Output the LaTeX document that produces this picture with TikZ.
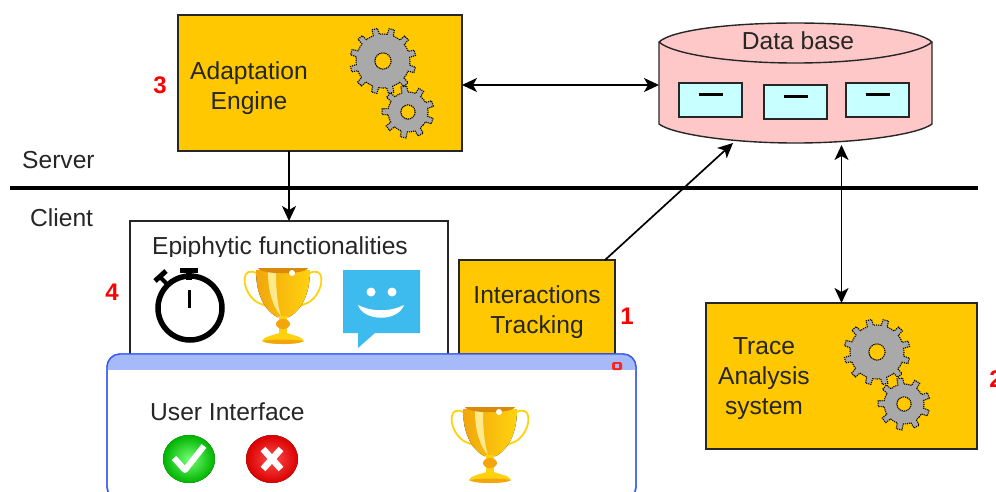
\documentclass[tikz,border=0pt]{standalone}
\usepackage{fontspec}
\setmainfont{Liberation Sans}
\usetikzlibrary{arrows.meta,calc}
\definecolor{amber}{HTML}{FFC800}
\definecolor{dbpink}{HTML}{FFC8C8}
\definecolor{dbcyan}{HTML}{C8FFFF}
\definecolor{wblue}{HTML}{3C5AF5}
\definecolor{hblue}{HTML}{A6BAFA}
\definecolor{gearg}{HTML}{A9A9A9}
\definecolor{bubble}{HTML}{3DBBEE}
\definecolor{goldA}{HTML}{F2A60C}
\definecolor{goldB}{HTML}{FFD20F}
\definecolor{goldC}{HTML}{FFE98A}
\definecolor{goldD}{HTML}{D98A0A}
\tikzset{
  ybox/.style={draw=black!85,line width=1.5pt,fill=amber,outer sep=0pt,inner sep=0pt},
  wbox/.style={draw=black!85,line width=1.5pt,fill=white,outer sep=0pt,inner sep=0pt},
  lab/.style={font=\fontsize{24.6}{29}\selectfont,text=black!85,align=center,inner sep=0pt},
  num/.style={font=\fontsize{24}{28}\bfseries\selectfont,text=red,inner sep=0pt},
  link/.style={draw=black,line width=1.7pt},
  tip/.style={-{Stealth[length=15pt,width=14pt,inset=4pt]}},
  tips/.style={{Stealth[length=15pt,width=14pt,inset=4pt]}-{Stealth[length=15pt,width=14pt,inset=4pt]}},
  dbbox/.style={draw=black!85,line width=1.3pt,fill=dbcyan},
}
% gear: x, y, outer radius, root radius, hole radius, teeth
\newcommand{\mygear}[6]{%
  \pgfmathsetmacro{\st}{360/#6}%
  \fill[gearg,draw=black,line width=1.1pt,densely dotted,even odd rule] (#1,#2)
    \foreach \i in {1,...,#6}{
      \ifnum\i=1 ++(\i*\st:#4)\else -- ($(#1,#2)+(\i*\st:#4)$)\fi
      -- ($(#1,#2)+(\i*\st+0.30*\st:#4)$)
      -- ($(#1,#2)+(\i*\st+0.36*\st:#3)$)
      -- ($(#1,#2)+(\i*\st+0.68*\st:#3)$)
      -- ($(#1,#2)+(\i*\st+0.74*\st:#4)$)
    } -- cycle (#1,#2) circle[radius=#5];
  \fill[amber] (#1,#2) circle[radius=#5];
  \draw[black,line width=1pt,densely dotted] (#1,#2) circle[radius=#5];
}
% trophy, drawn in a box about 80 x 77, top left at x,y
\newcommand{\mytrophy}[2]{%
  \begin{scope}[shift={(#1,#2)}]
    \draw[goldB,line width=1.8pt] (15,7) .. controls (-2,-3) and (-2,20) .. (10,32) .. controls (16,38) and (24,38) .. (30,42);
    \draw[goldB,line width=1.8pt] (65,7) .. controls (82,-3) and (82,20) .. (70,32) .. controls (64,38) and (56,38) .. (50,42);
    \fill[left color=goldA,right color=goldB] (13,3) -- (67,3) .. controls (67,25) and (60,42) .. (46,50) -- (34,50) .. controls (20,42) and (13,25) .. (13,3) -- cycle;
    \fill[goldC] (25,5) -- (33,5) .. controls (33,25) and (35,40) .. (38,49) .. controls (30,40) and (25,25) .. (25,5) -- cycle;
    \fill[goldD] (15,1) -- (65,1) .. controls (62,8) and (18,8) .. (15,1) -- cycle;
    \fill[white] (49,6) circle[radius=3];
    \fill[goldB] (36,49) rectangle (44,66);
    \fill[goldA] (40,57) ellipse[x radius=7,y radius=5];
    \fill[goldB] (40,65) .. controls (30,68) and (20,70) .. (19,74) .. controls (25,78) and (55,78) .. (61,74) .. controls (60,70) and (50,68) .. (40,65) -- cycle;
    \fill[goldA] (19,74) .. controls (25,78) and (55,78) .. (61,74) .. controls (50,72) and (30,72) .. (19,74) -- cycle;
  \end{scope}
}
\begin{document}
\begin{tikzpicture}[x=1pt,y=-1pt]
\useasboundingbox (0,0) rectangle (996,491);
\begin{scope}
\clip (0,0) rectangle (996,491);
% tier line
\coordinate (lineL) at (10,188);
\coordinate (lineR) at (978,188);
\draw[black,line width=3.2pt] (lineL) -- (lineR);
\node[lab,anchor=west] (server) at (22,160) {Server};
\node[lab,anchor=west] (client) at (30,218) {Client};

% Adaptation engine
\node[ybox,minimum width=284pt,minimum height=136pt] (adapt) at (320,83) {};
\node[lab] (adaptT) at (249,88) {Adaptation\\[1pt]Engine};
\mygear{383}{61}{33}{27}{8}{12}
\mygear{408}{112}{26}{20}{7}{9}
\node[num] (n3) at (160,85) {3};

% Database
\node[minimum width=273pt,minimum height=120pt,inner sep=0pt,outer sep=0pt] (db) at (795.5,85) {};
\draw[draw=black!85,line width=1.4pt,fill=dbpink] (659,42) -- (659,124)
   .. controls (672,134) and (730,143) .. (795.5,143)
   .. controls (861,143) and (919,134) .. (932,124) -- (932,42)
   .. controls (919,30) and (861,23) .. (795.5,23)
   .. controls (730,23) and (672,30) .. (659,42) -- cycle;
\draw[draw=black!85,line width=1.4pt] (659,42)
   .. controls (672,54) and (730,63) .. (795.5,63)
   .. controls (861,63) and (919,54) .. (932,42);
\node[lab] (dbT) at (798,41) {Data base};
\node[dbbox,minimum width=63pt,minimum height=34pt,inner sep=0pt] (r1) at (710.5,100) {};
\node[dbbox,minimum width=63pt,minimum height=34pt,inner sep=0pt] (r2) at (795.5,102) {};
\node[dbbox,minimum width=63pt,minimum height=34pt,inner sep=0pt] (r3) at (877.5,100) {};
\foreach \r in {r1,r2,r3}
  \draw[black,line width=3pt] ($(\r.center)+(-12,-6)$) -- ($(\r.center)+(12,-6)$);

% Epiphytic functionalities
\node[wbox,minimum width=318pt,minimum height=134pt] (epi) at (289,288) {};
\node[lab] (epiT) at (280,248) {Epiphytic functionalities};
\fill[white] (140,256.5) rectangle (430,264);
\node[num] (n4) at (112,292) {4};
% stopwatch
\draw[black,line width=5.5pt] (190,308) circle[radius=32];
\draw[black,line width=3pt] (189,290) -- (189,308);
\fill[black] (180,268) rectangle (198,273);
\fill[black] (186,272) rectangle (192,280);
\draw[black,line width=4pt] (167,284) -- (161,278);
\draw[black,line width=5pt] (155,281) -- (166,271);
% trophy
\mytrophy{243}{267}
% speech bubble
\fill[bubble] (343,270) -- (420,270) -- (420,333) -- (375,333) -- (358,348) -- (358,333) -- (343,333) -- cycle;
\fill[white] (371,292) circle[radius=4.5] (392,292) circle[radius=4.5];
\fill[white] (358,305) .. controls (372,312) and (390,312) .. (404,305) .. controls (398,322) and (364,322) .. (358,305) -- cycle;

% Interactions tracking
\node[ybox,minimum width=156pt,minimum height=94pt] (track) at (537,307) {};
\node[lab] (trackT) at (537,312) {Interactions\\[1pt]Tracking};
\node[num] (n1) at (627,316) {1};

% User interface window
\node[draw=none,minimum width=529pt,minimum height=136pt,inner sep=0pt,outer sep=0pt] (ui) at (371.5,422) {};
\draw[wblue,line width=1.4pt,fill=white,rounded corners=13pt] (107,500) -- (107,354) -- (636,354) -- (636,500) -- cycle;
\begin{scope}
\clip[rounded corners=13pt] (107,500) -- (107,354) -- (636,354) -- (636,500) -- cycle;
\fill[hblue] (107,354) rectangle (636,370);
\end{scope}
\draw[wblue,line width=1.4pt,rounded corners=13pt] (107,500) -- (107,354) -- (636,354) -- (636,500) -- cycle;
\fill[red!85!white,rounded corners=1.5pt] (612,362) rectangle (622,370);
\fill[hblue] (615,364) rectangle (619,368);
\node[lab,anchor=west] (uiT) at (150,412) {User Interface};
\fill[inner color=green!55!white,outer color=green!70!black] (189,459) ellipse[x radius=26,y radius=24];
\draw[white,line width=6pt,line join=round] (174,458) -- (185,470) -- (204,446);
\fill[inner color=red!70!white,outer color=red!85!black] (272,459) ellipse[x radius=26,y radius=24];
\draw[white,line width=6.5pt] (263,449) -- (281,469) (281,449) -- (263,469);
\mytrophy{450}{406}

% Trace analysis
\node[ybox,minimum width=271pt,minimum height=146pt] (trace) at (841.5,376) {};
\node[lab] (traceT) at (764,379) {Trace\\[1pt]Analysis\\[1pt]system};
\mygear{877}{352}{33}{27}{8}{12}
\mygear{904}{404}{26}{20}{7}{9}
\node[num] (n2) at (996,379) {2};

% connectors
\coordinate (trackOut) at (605,260);
\coordinate (dbIn) at (733,143);
\draw[link,tips] (adapt.east |- db.west) -- (db.west);
\draw[link,tip] (adapt.south -| epi.north) -- (epi.north);
\draw[link,tip] (trackOut) -- (dbIn);
\draw[link,tips] (db.south -| trace.north) -- (trace.north);
\end{scope}
\end{tikzpicture}
\end{document}
